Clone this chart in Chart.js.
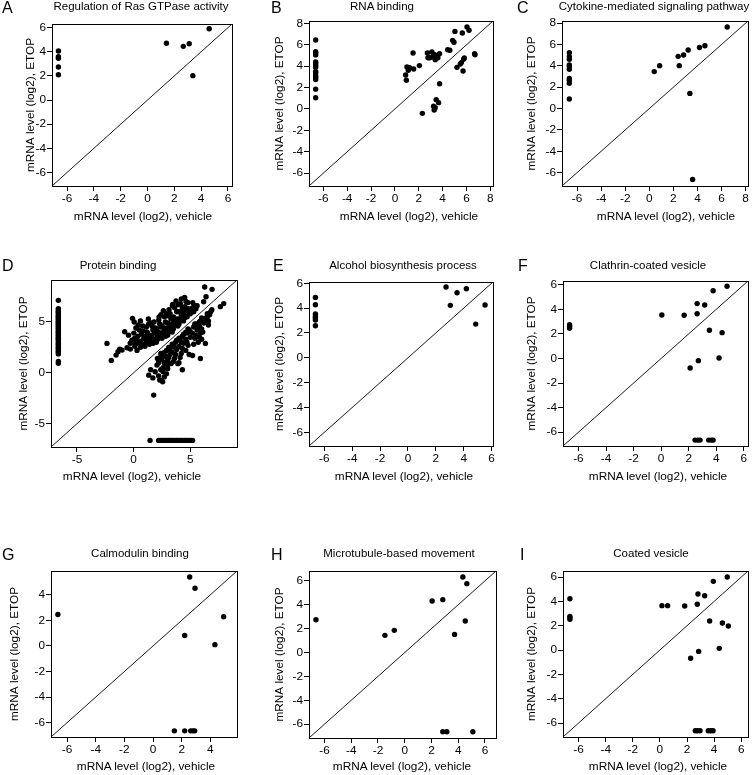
<!DOCTYPE html>
<html>
<head>
<meta charset="utf-8">
<script src="https://cdn.jsdelivr.net/npm/chart.js@4.4.1/dist/chart.umd.min.js"></script>
<style>
  body { margin: 0; background: #fff; }
  #fig { position: relative; width: 752px; height: 775px; overflow: hidden;
         font-family: "Liberation Sans", Arial, sans-serif; color: #000; }
  #fig canvas { position: absolute; }
  .ttl { position: absolute; font-size: 11.5px; line-height: 14px; white-space: nowrap; transform: translateX(-50%); }
  .xt { position: absolute; font-size: 11.8px; line-height: 14px; white-space: nowrap; transform: translateX(-50%); }
  .lab { position: absolute; font-size: 16px; line-height: 16px; }
</style>
</head>
<body>
<div id="fig"></div>
<script>
// undetected genes are plotted at this floor value (log2)
const FLOOR = -6.64;

const panelLetters = ['A', 'B', 'C', 'D', 'E', 'F', 'G', 'H', 'I'];
const panelTitles = [
  'Regulation of Ras GTPase activity', 'RNA binding', 'Cytokine-mediated signaling pathway',
  'Protein binding', 'Alcohol biosynthesis process', 'Clathrin-coated vesicle',
  'Calmodulin binding', 'Microtubule-based movement', 'Coated vesicle'
];
const xAxisTitle = 'mRNA level (log2), vehicle';
const yAxisTitle = 'mRNA level (log2), ETOP';

// tick label sets
const ticksTo4 = [-6, -4, -2, 0, 2, 4];
const ticksTo6 = [-6, -4, -2, 0, 2, 4, 6];
const ticksTo8 = [-6, -4, -2, 0, 2, 4, 6, 8];
const ticksBy5 = [-5, 0, 5];
const panelTicks = [ticksTo6, ticksTo8, ticksTo8, ticksBy5, ticksTo6, ticksTo6, ticksTo4, ticksTo6, ticksTo6];

// same range on both axes, so the identity line runs corner to corner
const axisRanges = [
  [-7.12, 6.3], [-7.2, 8.22], [-7.25, 8.2],
  [-7.29, 9.12], [-7.1, 6.1], [-7.12, 6.3],
  [-7.12, 5.86], [-7.16, 6.83], [-7.15, 6.5]
];

// A
const rasPts = [[-6.64,4.06],[-6.64,3.59],[-6.64,3.46],[-6.64,2.74],[-6.64,2.1],
  [1.41,4.7],[2.67,4.45],[3.11,4.67],[3.38,2.02],[4.6,5.91]];

// B
const rnaFloorY = [6.45,5.35,5.2,5.05,4.4,4.25,4.05,3.9,3.5,3.35,3.1,2.95,2.75,1.85,1.05];
const rnaPts = [[0.90,3.17],[0.96,2.68],[1.01,3.92],[1.12,3.61],[1.23,3.86],[1.52,5.23],[1.57,3.73],
  [2.05,4.05],[2.30,-0.41],[2.72,5.23],[2.77,4.79],[2.91,4.79],[3.10,5.32],[3.18,4.86],[3.29,5.10],
  [3.38,4.61],[3.49,5.00],[3.60,4.79],[3.74,5.16],[3.24,0.26],[3.29,-0.10],[3.38,0.12],[3.46,0.87],
  [3.66,0.59],[3.74,2.36],[4.42,5.54],[4.60,5.48],[4.84,6.41],[4.95,6.23],[5.03,7.25],[5.20,3.89],
  [5.48,4.20],[5.57,4.33],[5.76,4.64],[5.82,4.76],[5.65,7.1],[5.71,3.55],[6.04,7.66],[6.21,7.35],
  [6.68,5.17],[6.71,5.07]];

// C
const cytoFloorY = [5.23,4.86,4.61,4.08,3.93,3.68,2.81,2.63,2.38,0.89];
const cytoPts = [[0.41,3.46],[0.86,4.02],[2.40,4.89],[2.49,4.02],[2.85,5.01],[3.23,5.48],[3.37,1.42],
  [4.17,5.72],[4.62,5.88],[3.6,-6.64],[6.47,7.64]];

// D
const protFloorY = [7.12,6.31,6.18,6.02,5.95,5.81,5.66,5.52,5.47,5.30,5.22,5.08,4.97,4.90,4.76,4.63,
  4.55,4.41,4.33,4.20,4.06,3.98,3.85,3.71,3.64,3.50,3.37,3.29,3.14,3.02,2.88,2.79,2.63,2.51,2.38,
  2.24,2.12,1.97,1.86,1.12,0.93];
const protFloorX = [1.45,2.20,2.34,2.50,2.63,2.79,2.92,3.06,3.20,3.33,3.47,3.60,3.76,3.88,4.03,4.17,
  4.30,4.46,4.60,4.74,4.90,5.05,5.20];
const protUpper = [[-2.35,2.89],[-1.97,1.22],[-1.55,1.74],[-1.38,2.07],[-1.23,2.33],[-1.02,2.23],
  [-0.79,4.04],[-0.58,2.46],[-0.29,2.33],[-0.45,3.7],[-0.15,3.2],[-0.3,2.9],[-0.1,5.35],[0.05,5.0],
  [0.0,3.0],[0.1,3.4],[0.02,3.9],[0.2,4.4],[0.1,2.6],[0.3,2.2],[0.22,3.2],[0.4,4.7],[0.38,3.6],[0.3,2.9],
  [0.6,2.5],[0.62,3.1],[0.7,3.8],[0.5,4.2],[0.8,4.6],[0.72,2.8],[0.9,3.4],[0.83,4.1],[0.6,5.1],
  [1.0,2.6],[1.1,3.0],[1.03,3.6],[1.2,4.0],[1.12,4.5],[1.3,5.3],[1.22,3.3],[1.4,2.8],[1.33,4.8],[1.42,3.7],
  [1.5,3.1],[1.6,3.5],[1.7,4.2],[1.62,4.6],[1.8,5.0],[1.72,2.9],[1.9,3.3],[1.83,3.9],[1.92,4.4],[1.52,4.9],
  [2.0,3.0],[2.1,3.6],[2.2,4.0],[2.02,4.3],[2.3,4.8],[2.22,5.2],[2.12,3.3],[2.33,3.8],[2.4,4.5],[2.42,5.7],
  [2.25,5.5],[2.5,3.4],[2.6,3.8],[2.7,4.2],[2.52,4.6],[2.8,5.0],[2.72,5.5],[2.63,4.0],[2.9,4.4],[2.82,3.6],
  [2.92,5.8],[2.62,6.1],[3.0,3.7],[3.1,4.0],[3.2,4.5],[3.02,4.9],[3.3,5.3],[3.22,5.8],[3.12,6.2],[3.4,4.0],
  [3.32,4.3],[3.42,6.6],[3.43,4.8],[3.05,5.6],[3.5,4.3],[3.6,4.7],[3.7,5.1],[3.52,5.5],[3.8,6.0],[3.74,7.05],
  [3.62,6.4],[3.9,4.6],[3.82,5.3],[3.92,6.7],[3.55,5.0],[4.0,4.8],[4.1,5.1],[4.2,5.6],[4.02,6.0],[4.3,6.4],
  [4.21,7.25],[4.12,6.8],[4.4,5.1],[4.32,5.8],[4.42,6.2],[4.05,5.3],[4.5,5.4],[4.6,5.6],[4.7,6.1],[4.52,6.5],
  [4.8,6.9],[4.72,5.5],[4.9,5.9],[4.62,7.0],[4.82,6.3],[5.0,5.8],[5.1,6.1],[5.2,6.4],[5.3,6.0],[5.4,6.6],
  [5.5,6.3],[5.22,6.9],[5.6,6.6],[3.45,6.72],[4.5,7.4],[6.27,8.43],[6.92,8.2],[6.18,6.99],[6.39,7.48]];
const protLower = [[1.33,-0.23],[1.77,-2.19],[1.5,0.3],[1.7,-0.5],[1.9,0.1],[2.06,0.76],[2.2,-0.3],
  [2.4,0.3],[2.56,-0.88],[2.3,-0.7],[2.7,-0.4],[2.6,0.5],[2.8,0.9],[2.9,-0.1],[3.0,0.4],[2.2,1.0],[2.5,1.3],
  [2.1,1.4],[2.5,1.8],[2.7,1.0],[2.4,1.9],[2.6,0.1],[2.7,2.0],[2.4,1.6],[2.8,1.6],[2.9,2.2],[3.0,1.2],
  [3.1,2.5],[3.2,1.8],[3.0,0.8],[3.2,2.3],[3.1,1.5],[3.3,0.9],[3.4,2.0],[3.5,2.7],[3.6,1.4],[3.7,3.0],
  [3.8,2.3],[3.5,1.1],[3.7,1.8],[3.4,2.8],[3.6,2.5],[3.8,3.2],[3.9,0.9],[4.0,2.6],[4.1,3.3],[4.2,1.9],
  [4.3,3.6],[4.4,2.9],[4.1,1.5],[4.3,2.4],[4.0,3.4],[4.2,3.0],[4.4,3.8],[4.3,0.3],[4.0,1.0],[4.6,3.3],
  [4.7,3.9],[4.8,2.7],[4.9,4.2],[5.0,3.5],[4.6,2.2],[4.8,4.3],[4.7,3.0],[5.0,4.0],[4.9,1.8],[4.6,4.0],
  [5.2,3.9],[5.3,4.5],[5.4,3.4],[5.5,4.8],[5.6,4.2],[5.2,1.7],[5.4,4.8],[5.3,2.8],[5.6,4.6],[5.5,3.7],
  [5.89,1.41],[5.7,3.0],[5.8,3.5],[5.9,3.9],[6.0,3.3],[5.8,4.6],[5.9,5.1],[6.0,4.3],[6.1,5.3],[6.2,4.9],
  [5.8,5.0],[6.0,5.4],[6.2,5.3],[6.1,4.0],[6.4,5.4],[6.5,5.8],[6.6,5.1],[6.8,6.0],[6.9,6.2],[6.5,5.5],
  [6.33,2.89],[6.7,5.7],[6.6,4.7],[7.65,6.5],[7.95,6.8]];

// E
const alcFloorY = [4.86,4.27,3.52,3.33,3.2,3.04,2.58];
const alcPts = [[2.73,5.7],[3.04,4.22],[3.52,5.24],[4.19,5.56],[4.86,2.71],[5.53,4.25]];

// F
const clathFloorY = [2.75,2.6,2.45];
const clathFloorX = [2.46,2.66,2.82,3.45,3.65,3.77];
const clathPts = [[0.05,3.54],[1.67,3.51],[2.61,4.46],[2.61,3.64],[3.16,4.35],[3.77,5.51],[4.78,5.87],
  [3.5,2.29],[4.42,2.1],[2.1,-0.78],[2.7,-0.18],[4.2,0.04]];

// G
const calmFloorX = [1.49,2.21,2.63,2.79,2.91];
const calmPts = [[-6.64,2.46],[2.56,5.39],[2.93,4.51],[2.21,0.82],[4.93,2.28],[4.32,0.1]];

// H
const microFloorX = [2.85,3.15,5.1];
const microPts = [[-6.64,2.75],[-1.48,1.44],[-0.78,1.86],[2.05,4.32],[2.85,4.43],[4.35,6.33],
  [4.65,5.77],[4.53,2.64],[3.73,1.52]];

// I
const coatFloorY = [4.22,2.77,2.66,2.53];
const coatFloorX = [2.61,2.76,2.96,3.57,3.75,3.92];
const coatPts = [[0.15,3.65],[0.57,3.65],[1.83,3.62],[2.81,4.61],[2.76,3.76],[3.30,4.47],[3.94,5.65],
  [4.97,6.01],[3.67,2.39],[4.61,2.22],[5.05,1.98],[2.27,-0.68],[2.86,-0.11],[4.38,0.14]];

const toPts = arr => arr.map(p => ({x: p[0], y: p[1]}));
const floorCol = ys => ys.map(y => ({x: FLOOR, y: y}));
const floorRow = xs => xs.map(x => ({x: x, y: FLOOR}));

const panelPoints = [
  toPts(rasPts),
  floorCol(rnaFloorY).concat(toPts(rnaPts)),
  floorCol(cytoFloorY).concat(toPts(cytoPts)),
  floorCol(protFloorY).concat(floorRow(protFloorX), toPts(protUpper), toPts(protLower)),
  floorCol(alcFloorY).concat(toPts(alcPts)),
  floorCol(clathFloorY).concat(floorRow(clathFloorX), toPts(clathPts)),
  floorRow(calmFloorX).concat(toPts(calmPts)),
  floorRow(microFloorX).concat(toPts(microPts)),
  floorCol(coatFloorY).concat(floorRow(coatFloorX), toPts(coatPts))
];

// page layout (pixels)
const colLeft = [0, 250, 500], colWidth = [250, 250, 252], rowTop = [0, 255, 510];
const layout = [
  {box: [52, 24, 232, 186],  title: [141, -1],  letter: [2, 0],     xTitle: [143, 209],   yTitleX: 31},
  {box: [309, 21, 493, 186], title: [382, -1],  letter: [271, 0],   xTitle: [409, 209],   yTitleX: 280},
  {box: [562, 21, 748, 186], title: [654, -1],  letter: [517, 0],   xTitle: [666, 209],   yTitleX: 532},
  {box: [51, 280, 237, 447], title: [118, 258], letter: [2, 258],   xTitle: [132, 469],   yTitleX: 24},
  {box: [309, 282, 493, 446],title: [403, 258], letter: [273, 258], xTitle: [404, 469],   yTitleX: 280},
  {box: [563, 281, 748, 446],title: [648, 258], letter: [518, 258], xTitle: [658, 469],   yTitleX: 532},
  {box: [51, 571, 237, 737], title: [140, 546], letter: [2, 547],   xTitle: [146, 759],   yTitleX: 15},
  {box: [309, 571, 496, 738],title: [399, 546], letter: [271, 547], xTitle: [402, 759],   yTitleX: 280},
  {box: [563, 571, 748, 737],title: [651, 546], letter: [520, 547], xTitle: [658, 759],   yTitleX: 532}
];

const tickFont = {family: '"Liberation Sans", Arial, sans-serif', size: 11.8};
const X_AXIS_H = 38;

const boxFrame = {
  id: 'boxFrame',
  afterDraw(chart) {
    const {ctx, chartArea: a} = chart;
    ctx.save();
    ctx.strokeStyle = '#000';
    ctx.lineWidth = 1;
    ctx.strokeRect(Math.floor(a.left) + 0.5, Math.floor(a.top) + 0.5,
                   Math.round(a.right - a.left), Math.round(a.bottom - a.top));
    ctx.restore();
  }
};

const fig = document.getElementById('fig');

function addText(cls, text, x, y) {
  const d = document.createElement('div');
  d.className = cls;
  d.textContent = text;
  d.style.left = x + 'px';
  d.style.top = y + 'px';
  fig.appendChild(d);
}

function axis(range, ticks) {
  return {
    type: 'linear',
    min: range[0],
    max: range[1],
    afterBuildTicks: s => { s.ticks = ticks.map(v => ({value: v})); },
    ticks: {color: '#000', font: tickFont, padding: 1, autoSkip: false, maxRotation: 0, minRotation: 0},
    grid: {drawOnChartArea: false, drawTicks: true, tickLength: 5, color: '#000', lineWidth: 1},
    border: {display: false}
  };
}

panelPoints.forEach((pts, i) => {
  const L = layout[i];
  const col = i % 3, row = Math.floor(i / 3);
  const cx = colLeft[col], cy = rowTop[row], cw = colWidth[col];
  const [bl, bt, br, bb] = L.box;
  const ch = bb - cy + X_AXIS_H;
  const range = axisRanges[i];

  const cv = document.createElement('canvas');
  cv.width = cw;
  cv.height = ch;
  cv.style.left = cx + 'px';
  cv.style.top = cy + 'px';
  fig.appendChild(cv);

  const xs = axis(range, panelTicks[i]);
  xs.afterFit = s => { s.height = X_AXIS_H; };
  const ys = axis(range, panelTicks[i]);
  ys.afterFit = s => { s.width = bl - cx; };
  ys.title = {
    display: true, text: yAxisTitle, color: '#000', font: tickFont,
    padding: {top: L.yTitleX - cx - 7.1, bottom: 0}
  };

  new Chart(cv, {
    type: 'scatter',
    data: {
      datasets: [
        {data: [{x: range[0], y: range[0]}, {x: range[1], y: range[1]}], showLine: true,
         pointRadius: 0, borderColor: '#000', borderWidth: 0.9},
        {data: pts, pointRadius: 2.7, backgroundColor: '#000', borderWidth: 0}
      ]
    },
    options: {
      responsive: false,
      animation: false,
      devicePixelRatio: 1,
      events: [],
      layout: {padding: {left: 0, top: bt - cy, right: cx + cw - br, bottom: 0}},
      scales: {x: xs, y: ys},
      plugins: {legend: {display: false}, tooltip: {enabled: false}}
    },
    plugins: [boxFrame]
  });

  addText('ttl', panelTitles[i], L.title[0], L.title[1]);
  addText('lab', panelLetters[i], L.letter[0], L.letter[1]);
  addText('xt', xAxisTitle, L.xTitle[0], L.xTitle[1]);
});
</script>
</body>
</html>
